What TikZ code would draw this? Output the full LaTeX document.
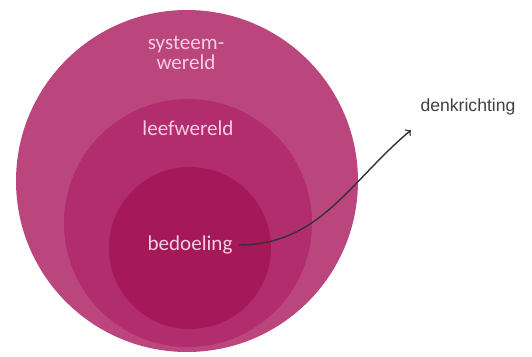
\documentclass[tikz,border=0pt]{standalone}
\usepackage{fontspec}
\setmainfont{Carlito}
\newfontfamily\denkfont{Liberation Sans}
\definecolor{systeemkleur}{RGB}{186,70,125}
\definecolor{leefkleur}{RGB}{178,45,110}
\definecolor{bedoelkleur}{RGB}{165,25,90}
\definecolor{tekstroze}{RGB}{246,204,224}

\begin{document}
\begin{tikzpicture}[
    cirkel/.style={circle, inner sep=0pt},
    label/.style={text=tekstroze, font=\large, align=center}
  ]
    \useasboundingbox (0,0) rectangle (10.64,7.12);
    % Circles
    \node[cirkel, fill=systeemkleur, minimum size=6.84cm] (S) at (3.74,3.50) {};
    \node[cirkel, fill=leefkleur, minimum size=4.96cm] (L) at (3.76,2.66) {};
    \node[cirkel, fill=bedoelkleur, minimum size=3.24cm] (B) at (3.80,2.16) {};
    % Labels
    \node[label] (sys) at (3.72,6.06) {systeem-\\[-3pt]wereld};
    \node[label] (leef) at (3.76,4.56) {leefwereld};
    \node[label] (bed) at (3.80,2.22) {bedoeling};
    \node[text=black!75, font=\denkfont] (denk) at (9.36,4.98) {denkrichting};
    % Arrow
    \draw[->, black!80, thick] (bed.east) to[out=0, in=220] ([shift={(-2pt,-5pt)}]denk.south west);
\end{tikzpicture}
\end{document}
